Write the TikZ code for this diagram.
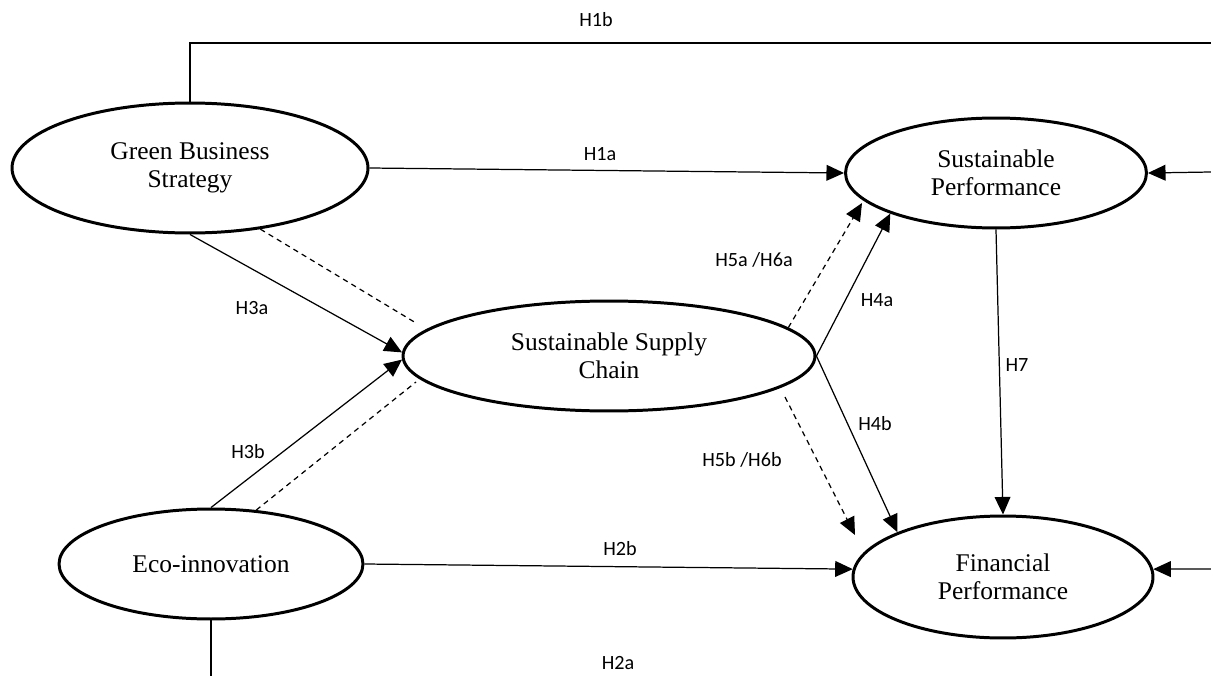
\documentclass[tikz,border=0pt]{standalone}
\usepackage{fontspec}
\setmainfont{Liberation Serif}
\newfontfamily\hypfont{Carlito}
\usetikzlibrary{shapes.geometric,arrows.meta}
\begin{document}
\begin{tikzpicture}[x=0.02cm,y=-0.02cm,
        construct/.style={ellipse,draw,line width=1.7pt,inner sep=0pt,align=center,
            font=\fontsize{14.5}{16}\selectfont},
        path/.style={line width=0.7pt,-{Triangle[length=10pt,width=9pt]}},
        mediate/.style={path,dash pattern=on 3pt off 2.5pt},
        hyp/.style={font=\hypfont\fontsize{11.5}{13}\selectfont}]
            \useasboundingbox (0,0) rectangle (1211,676);
            \node[construct,minimum width=7.12cm,minimum height=2.6cm] (gbs) at (190,168) {Green Business\\Strategy};
            \node[construct,minimum width=6.02cm,minimum height=2.2cm] (sp) at (996,173) {Sustainable\\Performance};
            \node[construct,minimum width=8.24cm,minimum height=2.2cm] (ssc) at (609,356) {Sustainable Supply\\Chain};
            \node[construct,minimum width=6.08cm,minimum height=2.2cm] (eco) at (211,564) {Eco-innovation};
            \node[construct,minimum width=6.0cm,minimum height=2.44cm] (fp) at (1003,577) {Financial\\Performance};
            \coordinate (h1bEnd) at (1211,43);
            \coordinate (spIn) at (1211,172);
            \coordinate (fpIn) at (1211,569);
            \coordinate (h2aEnd) at (211,676);
            \coordinate (gbsDash) at (416,323);
            \coordinate (ecoDash) at (416,382);
            \coordinate (h5aTip) at (862,203);
            \coordinate (h5bStart) at (785,397);
            \coordinate (h5bTip) at (855,535);
            \draw[line width=0.7pt] (gbs.north) |- (h1bEnd);
            \draw[path] (gbs.east) -- (sp.west);
            \draw[path] (gbs.south) -- (ssc.179);
            \draw[path] (eco.north) -- (ssc.181);
            \draw[mediate,-] (gbs.-41) -- (gbsDash);
            \draw[mediate,-] (eco.50) -- (ecoDash);
            \draw[mediate] (ssc.9) -- (h5aTip);
            \draw[mediate] (h5bStart) -- (h5bTip);
            \draw[path] (ssc.east) -- (sp.201);
            \draw[path] (ssc.east) -- (fp.157);
            \draw[path] (sp.south) -- (fp.north);
            \draw[path] (eco.east) -- (fp.177);
            \draw[path] (spIn) -- (sp.east);
            \draw[path] (fpIn) -- (fp.3);
            \draw[line width=0.7pt] (eco.south) -- (h2aEnd);
            \node[hyp] (lh1b) at (596,20) {H1b};
            \node[hyp] (lh1a) at (600,154) {H1a};
            \node[hyp] (lh3a) at (252,308) {H3a};
            \node[hyp] (lh3b) at (248,452) {H3b};
            \node[hyp] (lh5a) at (754,260) {H5a /H6a};
            \node[hyp] (lh4a) at (877,300) {H4a};
            \node[hyp] (lh4b) at (875,424) {H4b};
            \node[hyp] (lh5b) at (742,460) {H5b /H6b};
            \node[hyp] (lh7) at (1017,365) {H7};
            \node[hyp] (lh2b) at (620,549) {H2b};
            \node[hyp] (lh2a) at (618,663) {H2a};
        \end{tikzpicture}
\end{document}
